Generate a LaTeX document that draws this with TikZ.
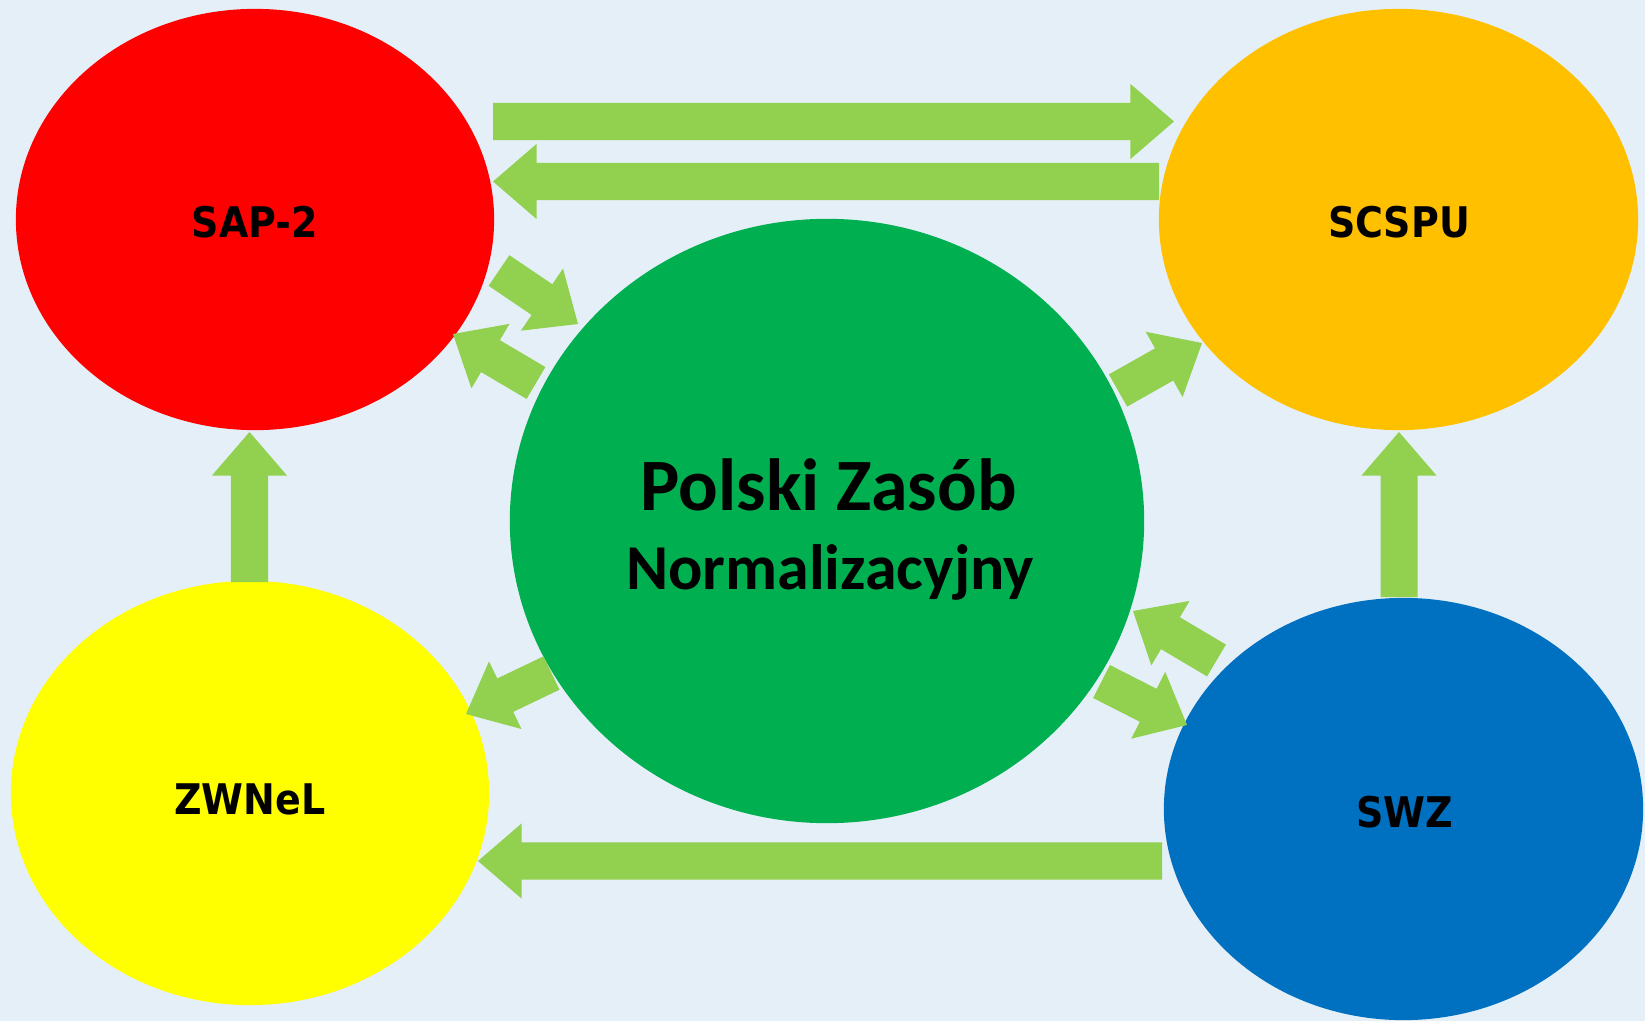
\documentclass[tikz,border=0pt]{standalone}
\usepackage{fontspec}
\setmainfont{Carlito}
\newfontfamily\lblfont{DejaVu Sans}
\usetikzlibrary{shapes.geometric,calc}
\definecolor{bgc}{HTML}{E5EFF8}
\definecolor{arrgreen}{HTML}{92D050}
\definecolor{cred}{HTML}{FF0000}
\definecolor{corange}{HTML}{FFC000}
\definecolor{cyellow}{HTML}{FFFF00}
\definecolor{cblue}{HTML}{0070C0}
\definecolor{cgreen}{HTML}{00B050}
\tikzset{
  blob/.style={ellipse, inner sep=0pt, draw=none},
  arrowfill/.style={fill=arrgreen},
  lbl/.style={anchor=base, inner sep=0pt, font=\lblfont\bfseries\fontsize{12pt}{14pt}\selectfont},
  bigtxt/.style={anchor=base, inner sep=0pt, font=\bfseries},
}
% block arrow: #1 tail coordinate, #2 tip coordinate
\newcommand\blockarr[2]{%
  \path ($(#2)!0.435cm!(#1)$) coordinate (hb);
  \fill[arrowfill] ($(#1)!0.185cm!90:(#2)$) -- ($(hb)!0.185cm!90:(#2)$)
    -- ($(hb)!0.375cm!90:(#2)$) -- (#2) -- ($(hb)!0.375cm!-90:(#2)$)
    -- ($(hb)!0.185cm!-90:(#2)$) -- ($(#1)!0.185cm!-90:(#2)$) -- cycle;
}
\begin{document}
\begin{tikzpicture}[x=0.01cm, y=-0.01cm]
\fill[bgc] (0,0) rectangle (1645,1021);
\useasboundingbox (0,0) rectangle (1645,1021);

% ellipses
\node[blob, fill=cred, minimum width=4.78cm, minimum height=4.21cm] (sap) at (255,219.5) {};
\node[blob, fill=corange, minimum width=4.79cm, minimum height=4.21cm] (scspu) at (1398.5,219.5) {};
\node[blob, fill=cyellow, minimum width=4.78cm, minimum height=4.24cm] (zwnel) at (250,793) {};
\node[blob, fill=cblue, minimum width=4.79cm, minimum height=4.22cm] (swz) at (1403.5,809) {};
\node[blob, fill=cgreen, minimum width=6.34cm, minimum height=6.04cm] (pzn) at (827,521) {};

% labels
\node[lbl] (tsap) at (255,237.5) {\scalebox{0.9}[1]{SAP-2}};
\node[lbl] (tscspu) at (1399,237.5) {\scalebox{0.9}[1]{SCSPU}};
\node[lbl] (tzwnel) at (250,814.5) {\scalebox{0.9}[1]{ZWNeL}};
\node[lbl] (tswz) at (1405,827.5) {\scalebox{0.9}[1]{SWZ}};
\node[bigtxt, font=\bfseries\fontsize{21pt}{24pt}\selectfont] (t1) at (828.5,510) {Polski Zasób};
\node[bigtxt, font=\bfseries\fontsize{18.2pt}{21pt}\selectfont] (t2) at (830,589) {Normalizacyjny};

% arrow end points
\coordinate (a1t) at (493,121.5);   \coordinate (a1p) at (1174,121.5);
\coordinate (a2t) at (1159,181.5);  \coordinate (a2p) at (493,181.5);
\coordinate (a3t) at (499,270.5);   \coordinate (a3p) at (578,324);
\coordinate (a4t) at (536,383);     \coordinate (a4p) at (453,334);
\coordinate (a5t) at (1118,390.5);  \coordinate (a5p) at (1202,343);
\coordinate (a6t) at (1216.5,660.5);\coordinate (a6p) at (1133,611);
\coordinate (a7t) at (1101.5,681.5);\coordinate (a7p) at (1187,725);
\coordinate (a8t) at (551.5,673);   \coordinate (a8p) at (466,714);
\coordinate (a9t) at (1162,861);    \coordinate (a9p) at (478,861);
\coordinate (a10t) at (249.5,582);  \coordinate (a10p) at (249.5,432);
\coordinate (a11t) at (1399,597);   \coordinate (a11p) at (1399,432);

\blockarr{a1t}{a1p}
\blockarr{a2t}{a2p}
\blockarr{a3t}{a3p}
\blockarr{a4t}{a4p}
\blockarr{a5t}{a5p}
\blockarr{a6t}{a6p}
\blockarr{a7t}{a7p}
\blockarr{a8t}{a8p}
\blockarr{a9t}{a9p}
\blockarr{a10t}{a10p}
\blockarr{a11t}{a11p}
\end{tikzpicture}
\end{document}
